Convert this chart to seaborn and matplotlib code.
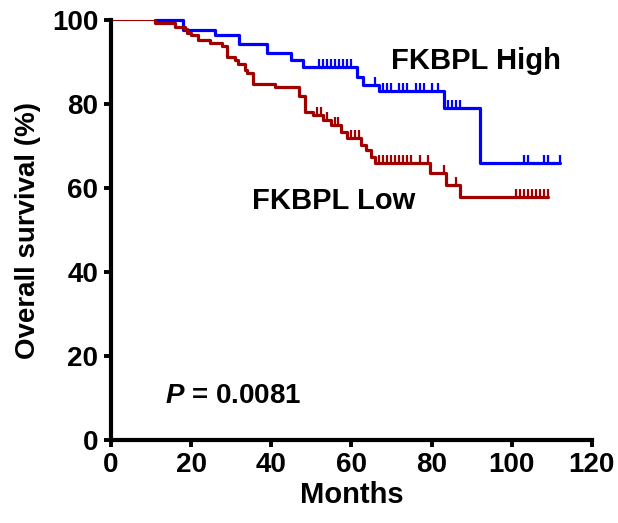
import matplotlib
matplotlib.use("Agg")
import matplotlib.pyplot as plt
import seaborn as sns
import pandas as pd
import numpy as np

sns.set_theme(style="ticks")
plt.rcParams['font.family'] = ['Liberation Sans', 'DejaVu Sans']
plt.rcParams['font.weight'] = 'bold'
plt.rcParams['text.color'] = 'black'
plt.rcParams['axes.labelcolor'] = 'black'
plt.rcParams['xtick.color'] = 'black'
plt.rcParams['ytick.color'] = 'black'
plt.rcParams['mathtext.fontset'] = 'custom'
plt.rcParams['mathtext.it'] = 'Liberation Sans:italic:bold'

# --- Kaplan-Meier steps (months, % surviving) ---
high_times = [11, 18, 26, 32, 39, 45, 48, 61.5, 63, 67, 83, 92, 112]
high_surv = [100, 97.6, 96.4, 94.4, 92.1, 90.5, 88.8, 86.4, 84.5, 83.0, 79.0, 65.9, 65.9]
high_censor = [52, 53, 54, 55, 56, 57, 58, 59, 60, 66, 68, 69, 70, 72, 73, 74,
               76, 77, 78, 80, 81.5, 84, 85, 86, 87, 103, 104, 108, 109, 112]

low_times = [11, 11, 16, 18.5, 19, 20, 21.7, 24.7, 27.7, 29, 31, 31.7, 33.4, 34, 35.4,
             41, 47, 48.4, 50.4, 53, 55, 57.5, 58.8, 62.5, 63.7, 65, 65.8, 79.5,
             83.7, 87, 109]
low_surv = [100, 99.2, 98.4, 97.8, 96.9, 96.4, 95.2, 94.5, 93.8, 91.3, 90.5, 89.5,
            88.1, 87.4, 84.8, 84.0, 82.0, 78.0, 77.4, 76.2, 75.0, 73.3, 71.9, 70.2,
            69.0, 67.4, 66.0, 63.6, 60.7, 57.9, 57.9]
low_censor = [51.5, 52.5, 54, 56, 56.7, 60, 61, 62, 67, 68, 69, 70, 71, 72, 73, 74,
              75, 77, 79, 83, 86.2, 101, 102, 103, 104, 105, 106, 107, 108, 109]

# thin lead-in before the first recorded time
lead_times = [0, 11]
lead_surv = [100, 100]

colors = {'FKBPL High': '#0000FF', 'FKBPL Low': '#A00000'}


def censor_frame(times, surv, censor):
    # level of the step curve at each censor time
    t = np.array(times)
    s = np.array(surv)
    idx = [np.where(t <= c)[0][-1] for c in censor]
    return pd.DataFrame({'Months': censor, 'Survival': s[idx]})


df_high = pd.DataFrame({'Months': high_times, 'Survival': high_surv})
df_low = pd.DataFrame({'Months': low_times, 'Survival': low_surv})
df_lead = pd.DataFrame({'Months': lead_times, 'Survival': lead_surv})

fig = plt.figure(figsize=(6.18, 5.23), dpi=100)
ax = fig.add_axes([0.1796, 0.1587, 0.778, 0.803])

sns.lineplot(data=df_lead, x='Months', y='Survival', color=colors['FKBPL Low'],
             linewidth=0.8, estimator=None, sort=False, ax=ax)
sns.lineplot(data=df_high, x='Months', y='Survival', color=colors['FKBPL High'],
             linewidth=2.3, drawstyle='steps-post', estimator=None, sort=False, ax=ax)
sns.lineplot(data=df_low, x='Months', y='Survival', color=colors['FKBPL Low'],
             linewidth=2.3, drawstyle='steps-post', estimator=None, sort=False, ax=ax)

sns.scatterplot(data=censor_frame(high_times, high_surv, high_censor), x='Months',
                y='Survival', marker=2, s=36, linewidth=1.6, color=colors['FKBPL High'], ax=ax)
sns.scatterplot(data=censor_frame(low_times, low_surv, low_censor), x='Months',
                y='Survival', marker=2, s=36, linewidth=1.6, color=colors['FKBPL Low'], ax=ax)

ax.set_xlim(0, 120)
ax.set_ylim(0, 100)
ax.set_xticks(range(0, 121, 20))
ax.set_yticks(range(0, 101, 20))
ax.set_xlabel('Months', fontsize=21, fontweight='bold', labelpad=2)
ax.set_ylabel('Overall survival (%)', fontsize=20, fontweight='bold', labelpad=8)
ax.tick_params(axis='both', labelsize=20, width=2.8, length=5, direction='out', pad=4)
for lbl in ax.get_xticklabels() + ax.get_yticklabels():
    lbl.set_fontweight('bold')
sns.despine(ax=ax)
for side in ['left', 'bottom']:
    ax.spines[side].set_linewidth(3)
    ax.spines[side].set_color('black')
ax.patch.set_alpha(0)
for c in ax.collections + ax.lines:
    c.set_clip_on(False)

ax.text(70, 90.2, 'FKBPL High', fontsize=21, fontweight='bold', va='center')
ax.text(35.2, 57, 'FKBPL Low', fontsize=21, fontweight='bold', va='center')
ax.text(13.5, 10.5, '$P$ = 0.0081', fontsize=20, fontweight='bold', va='center')

fig.savefig('out.png', dpi=100)
